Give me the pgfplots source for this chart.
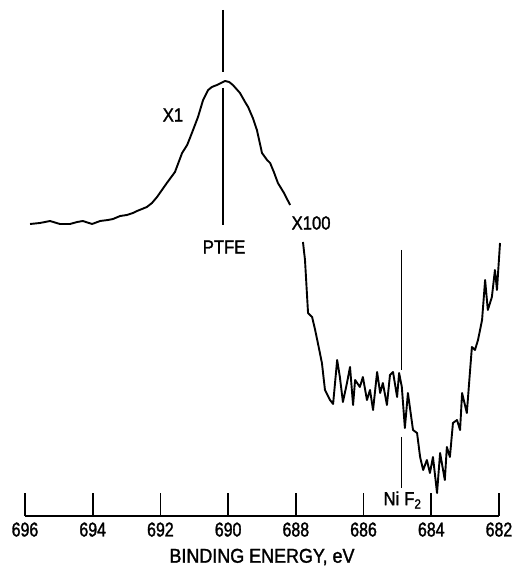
\documentclass[border=0pt]{standalone}
\usepackage{fontspec}
\setmainfont{Liberation Sans}[FakeStretch=0.8,FakeBold=1.5]
\newfontfamily\widefont{Liberation Sans}[FakeStretch=0.9,FakeBold=1.5]
\newfontfamily\labfont{Liberation Sans}[FakeStretch=0.88,FakeBold=1.5]
\usepackage{pgfplots}
\pgfplotsset{compat=1.18}
\begin{document}
\begin{tikzpicture}
\begin{axis}[
  scale only axis, width=474bp, height=506bp,
  xmin=682, xmax=696, x dir=reverse, ymin=0, ymax=506,
  axis x line*=bottom, axis y line=none,
  xtick={682,684,686,688,690,692,694,696},
  tick align=inside, major tick length=23bp,
  xtick style={line width=1.6bp, black},
  axis line style={line width=1.6bp, black},
  /pgf/number format/assume math mode=true,
  xticklabel style={font=\fontsize{20}{24}\selectfont, yshift=-3bp},
  clip=false,
]
\addplot[black, line width=1.9bp, line join=round] coordinates {
(695.85,292) (695.56,293) (695.26,295) (694.97,292) (694.67,292) (694.46,294)
(694.29,295) (694.02,292) (693.78,295) (693.55,296) (693.40,297) (693.19,300)
(692.99,301) (692.81,303) (692.69,305) (692.40,309) (692.25,313) (692.10,319)
(691.81,333) (691.57,344) (691.36,363) (691.21,371) (691.07,383) (690.89,399)
(690.74,416) (690.59,426) (690.48,429) (690.33,431) (690.21,433) (690.09,435)
(689.97,434) (689.86,431) (689.65,423) (689.50,414) (689.41,409) (689.27,398)
(689.15,386) (689.00,363) (688.85,356) (688.76,353) (688.65,344) (688.53,333)
(688.35,323) (688.17,311)
};
\addplot[black, line width=1.9bp, line join=round] coordinates {
(687.79,274) (687.73,256) (687.64,203) (687.52,199) (687.43,186) (687.35,173)
(687.23,153) (687.14,126) (686.99,116) (686.90,112) (686.78,156) (686.70,139)
(686.61,114) (686.49,133) (686.40,149) (686.31,111) (686.25,136) (686.11,129)
(686.02,139) (685.90,116) (685.81,126) (685.72,106) (685.60,144) (685.51,123)
(685.43,133) (685.31,111) (685.22,141) (685.13,144) (685.01,119) (684.95,143)
(684.87,129) (684.78,88) (684.69,123) (684.54,86) (684.42,83) (684.33,59)
(684.24,46) (684.13,56) (684.04,43) (683.95,59) (683.83,23) (683.74,63)
(683.60,36) (683.54,69) (683.45,59) (683.36,93) (683.24,96) (683.15,86)
(683.09,123) (682.95,103) (682.86,143) (682.80,169) (682.71,166) (682.62,176)
(682.50,196) (682.41,236) (682.33,206) (682.21,219) (682.12,246) (682.06,226)
(681.97,273)
};
\draw[black, line width=1.4bp] (axis cs:690.15,506) -- (axis cs:690.15,444);
\draw[black, line width=1.4bp] (axis cs:690.15,428) -- (axis cs:690.15,291);
\draw[black, line width=1.1bp] (axis cs:684.87,266) -- (axis cs:684.87,146);
\draw[black, line width=1.1bp] (axis cs:684.87,79) -- (axis cs:684.87,28);
\node[font=\labfont\fontsize{19}{21}\selectfont] at (axis cs:691.63,401) {X1};
\node[font=\labfont\fontsize{19}{21}\selectfont] at (axis cs:690.12,269) {PTFE};
\node[font=\labfont\fontsize{19}{21}\selectfont] at (axis cs:687.55,293) {X100};
\node[font=\labfont\fontsize{19}{21}\selectfont] at (axis cs:684.85,16) {Ni\hspace{5bp}F\textsubscript{2}};
\node[font=\widefont\fontsize{20}{24}\selectfont] at (rel axis cs:0.5,0) [yshift=-41bp] {BINDING ENERGY, eV};
\end{axis}
\path (current axis.south west) ++(-25bp,-62bp) rectangle ++(513bp,578bp);
\end{tikzpicture}
\end{document}
